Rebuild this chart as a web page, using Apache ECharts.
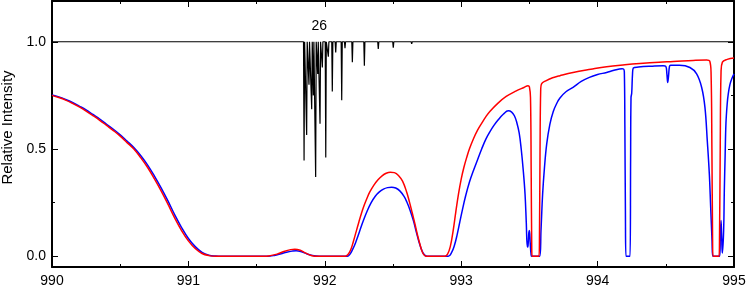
<!DOCTYPE html>
<html>
<head>
<meta charset="utf-8">
<script src="https://cdn.jsdelivr.net/npm/echarts@6/dist/echarts.min.js"></script>
<style>html,body{margin:0;padding:0;background:#fff}#c{width:747px;height:294px}</style>
</head>
<body>
<div id="c"></div>
<script>
// x ticks / y ticks
const xMajor = [990, 991, 992, 993, 994, 995];
const yMajor = [0, 0.5, 1.0];
const yMinor = [0.25, 0.75];

// Stick spectrum (black): dip positions and minimum intensities
const stickX = [991.848, 991.867, 991.884, 991.904, 991.916, 991.933, 991.948, 991.965, 991.982, 992.007, 992.026, 992.055, 992.080, 992.124, 992.148, 992.202, 992.290, 992.392, 992.502, 992.637, 992.771];
const stickY = [0.447, 0.565, 0.80, 0.685, 0.75, 0.370, 0.85, 0.618, 0.88, 0.460, 0.93, 0.768, 0.95, 0.727, 0.97, 0.904, 0.888, 0.966, 0.972, 0.990, 0.995];
const stickLabel = {x: 991.96, y: 1.075, text: '26'};

// Red series
const redData = [
[990.0,0.750],[990.05,0.740],[990.1,0.728],[990.15,0.713],[990.2,0.696],[990.25,0.677],[990.3,0.656],[990.35,0.634],[990.4,0.610],[990.45,0.586],[990.5,0.560],[990.55,0.530],[990.6,0.500],[990.65,0.460],[990.7,0.415],[990.75,0.362],[990.8,0.305],[990.85,0.243],[990.9,0.178],[990.95,0.120],[991.0,0.072],[991.05,0.036],[991.1,0.013],[991.15,0.003],[991.2,0],
[991.55,0],[991.6,0.003],[991.65,0.010],[991.7,0.022],[991.75,0.031],[991.78,0.033],[991.82,0.028],[991.86,0.015],[991.9,0.004],[991.95,0],
[992.15,0],[992.17,0.008],[992.19,0.03],[992.21,0.07],[992.23,0.115],[992.25,0.16],[992.27,0.203],[992.29,0.24],[992.31,0.272],[992.33,0.30],[992.36,0.332],[992.39,0.357],[992.42,0.375],[992.45,0.387],[992.48,0.392],[992.51,0.39],[992.54,0.377],[992.57,0.35],[992.60,0.30],[992.62,0.255],[992.64,0.205],[992.66,0.153],[992.68,0.098],[992.70,0.05],[992.715,0.02],[992.73,0.005],[992.745,0],
[992.88,0],[992.90,0.01],[992.92,0.045],[992.94,0.115],[992.96,0.205],[992.98,0.29],[993.00,0.36],[993.02,0.415],[993.04,0.46],[993.06,0.50],[993.09,0.548],[993.12,0.588],[993.15,0.62],[993.18,0.65],[993.21,0.675],[993.27,0.714],[993.33,0.745],[993.40,0.77],[993.46,0.787],[993.49,0.795],
[993.50,0.79],[993.508,0.74],[993.513,0.4],[993.517,0.05],[993.52,0],[993.57,0],[993.574,0.1],[993.578,0.5],[993.583,0.78],[993.59,0.805],[993.62,0.818],[993.67,0.832],[993.724,0.842],[993.82,0.857],[993.95,0.872],[994.066,0.884],[994.2,0.893],[994.31,0.899],[994.45,0.905],[994.555,0.908],[994.7,0.913],[994.8,0.915],[994.822,0.91],[994.832,0.85],[994.838,0.5],[994.843,0.08],[994.846,0],[994.890,0],[994.894,0.1],[994.899,0.5],[994.905,0.86],[994.915,0.905],[994.95,0.918],[995.0,0.924]
];

// Blue series
const blueData = [
[990.0,0.752],[990.05,0.743],[990.1,0.731],[990.15,0.717],[990.2,0.700],[990.25,0.682],[990.3,0.661],[990.35,0.640],[990.4,0.615],[990.45,0.592],[990.5,0.566],[990.55,0.537],[990.6,0.507],[990.65,0.470],[990.7,0.426],[990.75,0.375],[990.8,0.319],[990.85,0.258],[990.9,0.193],[990.95,0.134],[991.0,0.083],[991.05,0.045],[991.1,0.018],[991.15,0.005],[991.2,0.001],[991.25,0],
[991.58,0],[991.63,0.004],[991.68,0.012],[991.72,0.019],[991.76,0.024],[991.79,0.026],[991.83,0.021],[991.87,0.011],[991.92,0.002],[991.96,0],
[992.165,0],[992.185,0.01],[992.205,0.033],[992.225,0.062],[992.245,0.098],[992.265,0.135],[992.285,0.17],[992.31,0.21],[992.34,0.25],[992.37,0.28],[992.40,0.30],[992.43,0.313],[992.46,0.32],[992.49,0.322],[992.52,0.318],[992.55,0.305],[992.58,0.28],[992.60,0.255],[992.625,0.215],[992.65,0.165],[992.67,0.115],[992.69,0.068],[992.705,0.038],[992.72,0.016],[992.735,0.004],[992.75,0],
[992.905,0],[992.93,0.018],[992.95,0.05],[992.97,0.10],[992.99,0.16],[993.01,0.22],[993.03,0.275],[993.06,0.345],[993.09,0.40],[993.12,0.45],[993.15,0.50],[993.18,0.545],[993.21,0.58],[993.24,0.61],[993.27,0.635],[993.31,0.663],[993.345,0.678],[993.37,0.672],[993.39,0.655],[993.407,0.625],[993.425,0.575],[993.44,0.50],[993.455,0.40],[993.468,0.29],[993.477,0.16],[993.485,0.043],[993.49,0.05],[993.496,0.11],[993.500,0.12],[993.506,0.06],[993.512,0.01],[993.517,0],
[993.576,0],[993.585,0.12],[993.597,0.29],[993.61,0.41],[993.627,0.524],[993.65,0.615],[993.675,0.675],[993.7,0.712],[993.724,0.738],[993.77,0.768],[993.82,0.787],[993.88,0.815],[993.94,0.834],[994.0,0.847],[994.066,0.857],[994.12,0.867],[994.18,0.874],[994.19,0.873],[994.196,0.86],[994.200,0.6],[994.204,0.2],[994.208,0],[994.238,0],[994.242,0.45],[994.245,0.74],[994.25,0.76],[994.256,0.85],[994.262,0.878],[994.3,0.882],[994.4,0.886],[994.48,0.888],[994.5,0.885],[994.508,0.85],[994.514,0.81],[994.52,0.84],[994.527,0.885],[994.535,0.89],[994.6,0.89],[994.677,0.880],[994.726,0.85],[994.763,0.787],[994.787,0.694],[994.804,0.54],[994.819,0.385],[994.829,0.229],[994.839,0.074],[994.845,0],[994.895,0],[994.900,0.1],[994.905,0.167],[994.910,0.08],[994.915,0.015],[994.919,0.015],[994.924,0.12],[994.929,0.307],[994.935,0.47],[994.941,0.62],[994.95,0.71],[994.958,0.757],[994.97,0.80],[994.983,0.826],[995.0,0.85]
];

// build the stick line from the arrays
const stickData = [[990, 1]];
for (let i = 0; i < stickX.length; i++) {
  stickData.push([stickX[i] - 0.004, 1], [stickX[i], stickY[i]], [stickX[i] + 0.004, 1]);
}
stickData.push([995, 1]);

const FONT = '"Liberation Sans", Arial, sans-serif';
const yMin = -0.05, yMax = 1.19;

function yAx(pos, vals, len, showLine, showLabel) {
  return {
    type: 'value', position: pos, min: yMin, max: yMax,
    splitLine: {show: false},
    axisLine: {show: showLine, onZero: false, lineStyle: {color: '#000', width: 2}},
    axisTick: {show: true, inside: true, length: len, customValues: vals, lineStyle: {color: '#000', width: 1}},
    axisLabel: {show: showLabel, customValues: vals, margin: 6, color: '#000', fontSize: 14, fontFamily: FONT,
      formatter: v => Number(v).toFixed(1)}
  };
}
function xAx(pos, showLabel) {
  return {
    type: 'value', position: pos, min: xMajor[0], max: xMajor[xMajor.length - 1], interval: 1,
    splitLine: {show: false},
    axisLine: {onZero: false, lineStyle: {color: '#000', width: 2}},
    axisTick: {inside: true, length: 6, lineStyle: {color: '#000', width: 1}},
    minorTick: {show: true, splitNumber: 2, length: 3, lineStyle: {color: '#000', width: 1}},
    axisLabel: {show: showLabel, margin: 7, color: '#000', fontSize: 14, fontFamily: FONT}
  };
}

const chart = echarts.init(document.getElementById('c'), null, {renderer: 'canvas'});
chart.setOption({
  animation: false,
  backgroundColor: '#fff',
  grid: {left: 52, right: 13, top: 1, bottom: 27, containLabel: false, outerBoundsMode: 'none'},
  xAxis: [xAx('bottom', true), xAx('top', false)],
  yAxis: [
    Object.assign(yAx('left', yMajor, 6, true, true), {name: 'Relative Intensity', nameLocation: 'middle', nameGap: 35,
      nameTextStyle: {color: '#000', fontSize: 15, fontFamily: FONT, padding: [0, 0, 0, 13]}}),
    yAx('left', yMinor, 3, false, false),
    yAx('right', yMajor, 6, true, false),
    yAx('right', yMinor, 3, false, false)
  ],
  series: [
    {type: 'line', data: stickData, showSymbol: false, symbol: 'none', lineStyle: {color: '#000', width: 1.2}, z: 1,
     markPoint: {symbol: 'circle', symbolSize: 1, itemStyle: {color: 'rgba(0,0,0,0)'},
       label: {show: true, position: 'inside', color: '#000', fontSize: 14, fontFamily: FONT, formatter: stickLabel.text},
       data: [{coord: [stickLabel.x, stickLabel.y]}]}},
    {type: 'line', data: blueData, showSymbol: false, symbol: 'none', smooth: 0.4, lineStyle: {color: '#0000ff', width: 1.5}, z: 2},
    {type: 'line', data: redData, showSymbol: false, symbol: 'none', smooth: 0.4, lineStyle: {color: '#ff0000', width: 1.5}, z: 3}
  ]
});
</script>
</body>
</html>
